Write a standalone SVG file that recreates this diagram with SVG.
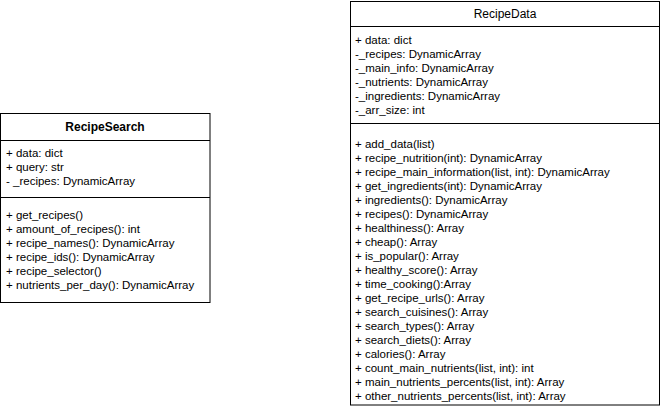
<svg xmlns="http://www.w3.org/2000/svg" width="661" height="410" viewBox="0 0 661 410">
<style>
.box{fill:#ffffff;stroke:#000000;stroke-width:1}
.div{stroke:#000000;stroke-width:1}
.t{font-family:"Liberation Sans",Arial,sans-serif;font-size:11.5px;fill:#000000}
.title{font-family:"Liberation Sans",Arial,sans-serif;font-size:12px;fill:#000000;text-anchor:middle}
</style>
<rect x="0" y="0" width="661" height="410" fill="#ffffff"/>
<g id="connectors"></g>
<g id="RecipeSearch">
<rect class="box" x="0.5" y="113.5" width="209.5" height="189"/>
<line class="div" x1="0.5" y1="140.5" x2="210" y2="140.5"/>
<line class="div" x1="0.5" y1="197.5" x2="210" y2="197.5"/>
<text class="title" x="105" y="131" font-weight="bold">RecipeSearch</text>
<text class="t" x="6" y="156.5">+ data: dict</text>
<text class="t" x="6" y="170.5">+ query: str</text>
<text class="t" x="6" y="184.5">- _recipes: DynamicArray</text>
<text class="t" x="6" y="219">+ get_recipes()</text>
<text class="t" x="6" y="233">+ amount_of_recipes(): int</text>
<text class="t" x="6" y="247">+ recipe_names(): DynamicArray</text>
<text class="t" x="6" y="261">+ recipe_ids(): DynamicArray</text>
<text class="t" x="6" y="275">+ recipe_selector()</text>
<text class="t" x="6" y="289">+ nutrients_per_day(): DynamicArray</text>
</g>
<g id="RecipeData">
<rect class="box" x="350.5" y="1.5" width="309" height="403.5"/>
<line class="div" x1="350.5" y1="26.5" x2="659.5" y2="26.5"/>
<line class="div" x1="350.5" y1="123.5" x2="659.5" y2="123.5"/>
<text class="title" x="505" y="18" font-size="12.5">RecipeData</text>
<text class="t" x="355" y="44">+ data: dict</text>
<text class="t" x="355" y="58">-_recipes: DynamicArray</text>
<text class="t" x="355" y="72">-_main_info: DynamicArray</text>
<text class="t" x="355" y="86">-_nutrients: DynamicArray</text>
<text class="t" x="355" y="100">-_ingredients: DynamicArray</text>
<text class="t" x="355" y="114">-_arr_size: int</text>
<text class="t" x="355" y="148">+ add_data(list)</text>
<text class="t" x="355" y="162">+ recipe_nutrition(int): DynamicArray</text>
<text class="t" x="355" y="176">+ recipe_main_information(list, int): DynamicArray</text>
<text class="t" x="355" y="190">+ get_ingredients(int): DynamicArray</text>
<text class="t" x="355" y="204">+ ingredients(): DynamicArray</text>
<text class="t" x="355" y="218">+ recipes(): DynamicArray</text>
<text class="t" x="355" y="232">+ healthiness(): Array</text>
<text class="t" x="355" y="246">+ cheap(): Array</text>
<text class="t" x="355" y="260">+ is_popular(): Array</text>
<text class="t" x="355" y="274">+ healthy_score(): Array</text>
<text class="t" x="355" y="288">+ time_cooking():Array</text>
<text class="t" x="355" y="302">+ get_recipe_urls(): Array</text>
<text class="t" x="355" y="316">+ search_cuisines(): Array</text>
<text class="t" x="355" y="330">+ search_types(): Array</text>
<text class="t" x="355" y="344">+ search_diets(): Array</text>
<text class="t" x="355" y="358">+ calories(): Array</text>
<text class="t" x="355" y="372">+ count_main_nutrients(list, int): int</text>
<text class="t" x="355" y="386">+ main_nutrients_percents(list, int): Array</text>
<text class="t" x="355" y="400">+ other_nutrients_percents(list, int): Array</text>
</g>
</svg>
